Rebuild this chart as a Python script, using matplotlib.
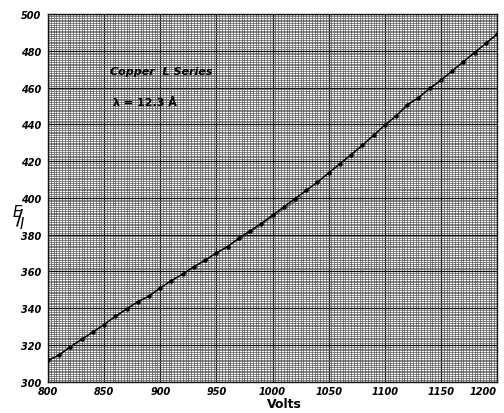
import matplotlib.pyplot as plt
from matplotlib.ticker import MultipleLocator

# measured E/I against accelerating voltage, copper L series
volts = [800, 810, 820, 830, 840, 850, 860, 870, 880, 890,
         900, 910, 920, 930, 940, 950, 960, 970, 980, 990,
         1000, 1010, 1020, 1030, 1040, 1050, 1060, 1070, 1080, 1090,
         1100, 1110, 1120, 1130, 1140, 1150, 1160, 1170, 1180, 1190, 1200]
e_over_i = [311.5, 314.5, 319.0, 323.0, 327.0, 331.0, 335.5, 339.5, 343.5, 346.5,
            351.0, 355.0, 358.5, 362.5, 366.0, 370.0, 373.5, 378.0, 382.0, 386.0,
            390.5, 395.0, 399.5, 404.0, 408.5, 413.5, 418.5, 423.5, 428.5, 434.0,
            439.5, 444.5, 450.5, 454.5, 459.5, 464.0, 469.0, 474.0, 479.0, 484.0, 489.0]

# straight guide ruled near the bend
guide_v = [969, 1026]
guide_e = [376.6, 400.6]

x_ticks = [800, 850, 900, 950, 1000, 1050, 1100, 1150, 1200]
y_ticks = [300, 320, 340, 360, 380, 400, 420, 440, 460, 480, 500]

fig = plt.figure(figsize=(5.04, 4.14), dpi=100)
ax = fig.add_axes([0.0952, 0.0758, 0.891, 0.888])
ax.set_xlim(800, 1200)
ax.set_ylim(300, 500)

# graph-paper ruling
ax.xaxis.set_major_locator(MultipleLocator(50))
ax.yaxis.set_major_locator(MultipleLocator(20))
ax.xaxis.set_minor_locator(MultipleLocator(2.5))
ax.yaxis.set_minor_locator(MultipleLocator(1))
ax.grid(which='minor', color='#555555', linewidth=0.5)
ax.grid(which='major', color='#111111', linewidth=0.9)
ax.set_axisbelow(True)
for s in ax.spines.values():
    s.set_color('#111111')
    s.set_linewidth(1.0)

ax.plot(volts, e_over_i, color='black', linewidth=1.1, zorder=3)
ax.plot(volts, e_over_i, 'o', color='black', markersize=2.2, zorder=4)
ax.plot(guide_v, guide_e, color='#333333', linewidth=0.6, zorder=3)

ax.set_xticks(x_ticks)
ax.set_yticks(y_ticks)
ax.set_xticklabels([str(v) for v in x_ticks], fontsize=7, fontweight='bold', fontstyle='italic')
ax.set_yticklabels([str(v) for v in y_ticks], fontsize=7, fontweight='bold', fontstyle='italic')
ax.tick_params(which='both', length=0)
ax.tick_params(axis='x', pad=3)
ax.tick_params(axis='y', pad=5)
ax.get_xticklabels()[-1].set_horizontalalignment('right')

ax.text(855, 469, 'Copper  L Series', fontsize=8, fontweight='bold', fontstyle='italic',
        va='center', ha='left', zorder=5)
ax.text(858, 452, 'λ = 12.3 Å', fontsize=8, fontweight='bold',
        va='center', ha='left', zorder=5)

fig.text(0.565, 0.022, 'Volts', fontsize=9, fontweight='bold', ha='center', va='center')
fig.text(0.036, 0.475, r'$^{E}\!\!/\!_{I}$', fontsize=15, ha='center', va='center')

fig.savefig('out.png', dpi=100)
